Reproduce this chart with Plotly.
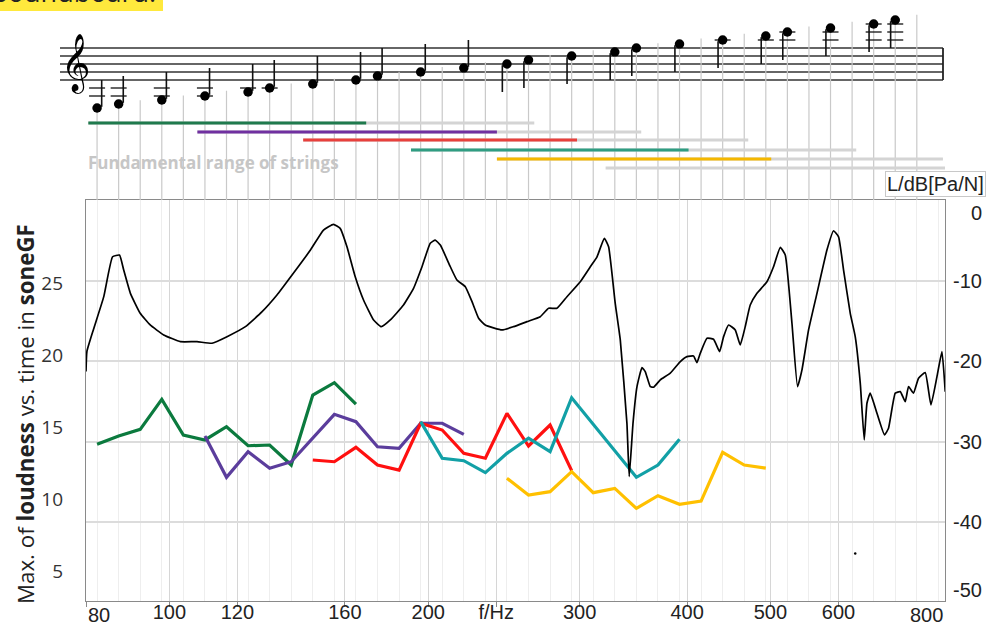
import math
import plotly.graph_objects as go

# ---------------- data ----------------
# Transfer function of the soundboard, L in dB[Pa/N] vs frequency (Hz)
resp_freq = [80.0, 80.2, 81.6, 83.9, 85.9, 87.5, 88.5, 90.1, 92.5, 95.0,
             98.5, 103.0, 107.7, 112.1, 116.7, 122.6, 128.2, 133.4, 138.9, 145.9,
             151.1, 155.2, 158.0, 160.9, 164.5, 168.2, 172.8, 176.4, 180.7, 187.2,
             192.3, 196.7, 201.1, 203.8, 206.6, 212.2, 216.0, 220.9, 224.9, 228.9,
             233.0, 243.7, 251.4, 260.5, 270.0, 276.1, 282.3, 290.0, 300.5, 308.7,
             314.3, 320.5, 324.2, 330.0, 334.5, 340.5, 342.6, 346.1, 349.8, 354.5,
             357.6, 362.5, 365.7, 372.3, 382.4, 392.8, 399.9, 407.0, 410.7, 414.4,
             421.9, 429.4, 436.4, 441.1, 447.0, 455.1, 461.2, 467.4, 473.7, 482.3,
             495.4, 504.2, 513.4, 520.3, 529.7, 537.7, 544.1, 553.8, 566.4, 581.7,
             592.1, 600.1, 608.2, 619.2, 627.5, 636.0, 642.8, 647.5, 653.2, 665.1,
             678.7, 686.0, 698.5, 707.9, 717.4, 723.8, 733.5, 743.4, 756.9, 768.5,
             781.0, 791.5, 798.5]
resp_db = [-21.3, -18.8, -16.1, -12.0, -7.05, -6.84, -8.70, -11.59, -14.07, -15.52,
           -16.76, -17.59, -17.59, -17.79, -16.97, -15.73, -13.87, -11.80, -9.32, -6.22,
           -3.73, -3.03, -3.52, -5.81, -9.53, -12.42, -14.90, -15.73, -14.90, -13.04,
           -10.97, -8.29, -5.38, -4.98, -5.60, -8.29, -9.94, -10.77, -12.63, -14.69,
           -15.52, -16.14, -15.73, -15.11, -14.49, -13.45, -13.45, -12.01, -10.15, -8.29,
           -7.05, -4.76, -5.81, -12.83, -17.38, -27.72, -34.34, -27.72, -23.18, -20.82,
           -21.31, -23.18, -23.25, -22.34, -21.51, -20.07, -19.45, -19.37, -20.20, -19.03,
           -17.17, -17.30, -18.83, -16.97, -15.52, -16.14, -18.0, -15.73, -13.04, -11.59,
           -10.15, -8.29, -5.88, -6.84, -15.31, -23.18, -21.10, -16.14, -11.59, -6.22,
           -3.82, -4.57, -8.70, -14.07, -16.97, -22.75, -29.79, -25.24, -23.99, -26.48,
           -29.17, -28.34, -23.99, -23.80, -25.04, -23.18, -23.99, -22.13, -21.44, -25.45,
           -21.94, -18.83, -23.80]
stray_freq = [627.5]
stray_db = [-43.9]

# Max. of loudness vs. time (soneGF) per played note, one series per string
e_freq = [82.41, 87.31, 92.50, 98.00, 103.83, 110.00, 116.54, 123.47, 130.81, 138.59, 146.83, 155.56, 164.81]
e_sone = [13.80, 14.38, 14.84, 16.92, 14.44, 14.10, 15.02, 13.70, 13.75, 12.36, 17.22, 18.08, 16.58]
a_freq = [110.00, 116.54, 123.47, 130.81, 138.59, 146.83, 155.56, 164.81, 174.61, 185.00, 196.00, 207.65, 220.00]
a_sone = [14.38, 11.51, 13.29, 12.13, 12.59, 14.22, 15.88, 15.37, 13.63, 13.52, 15.26, 15.26, 14.49]
d_freq = [146.83, 155.56, 164.81, 174.61, 185.00, 196.00, 207.65, 220.00, 233.08, 246.94, 261.63, 277.18, 293.66]
d_sone = [12.71, 12.59, 13.59, 12.36, 12.01, 15.26, 14.79, 13.17, 12.83, 15.95, 13.68, 15.14, 11.97]
g_freq = [196.00, 207.65, 220.00, 233.08, 246.94, 261.63, 277.18, 293.66, 349.23, 369.99, 392.00]
g_sone = [15.37, 12.83, 12.66, 11.83, 13.17, 14.22, 13.29, 17.03, 11.51, 12.36, 14.15]
b_freq = [246.94, 261.63, 277.18, 293.66, 311.13, 329.63, 349.23, 369.99, 392.00, 415.30, 440.00, 466.16, 493.88]
b_sone = [11.44, 10.28, 10.51, 11.90, 10.44, 10.74, 9.35, 10.23, 9.63, 9.86, 13.24, 12.36, 12.15]

# Notes on the staff (sounding frequency) and written staff step (0 = bottom line E4)
staff_note_freq = [82.41, 87.31, 98.00, 110.00, 123.47, 130.81, 146.83, 164.81, 174.61, 196.00,
                   220.00, 246.94, 261.63, 293.66, 329.63, 349.23, 392.00, 440.00, 493.88, 523.25,
                   587.33, 659.26, 698.46]
staff_note_step = [-7, -6, -5, -4, -3, -2, -1, 0, 1, 2,
                   3, 4, 5, 6, 7, 8, 9, 10, 11, 12,
                   13, 14, 15]

# Fundamental range of strings (Hz): coloured part and grey extension
range_start = [80.5, 107.8, 143.1, 191.0, 240.4, 321.6]
range_color_end = [169.4, 240.4, 297.9, 401.6, 501.1, 321.6]
range_grey_end = [265.7, 353.8, 471.2, 629.2, 793.6, 798.0]

x_tickvals = [80, 100, 120, 160, 200, 240, 300, 400, 500, 600]
x_ticktext = ['', '100', '120', '160', '200', 'f/Hz', '300', '400', '500', '600']
left_tickvals = [5, 10, 15, 20, 25]
right_tickvals = [0, -10, -20, -30, -40, -50]

# ---------------- styling / layout helpers ----------------
W, H = 987, 625
ML, MR, MT, MB = 86, 42, 0, 24
PW, PH = W - ML - MR, H - MT - MB
MAIN_TOP_PX = 200
main_top = (PH - MAIN_TOP_PX) / PH
XR = [math.log10(80), math.log10(798)]
YR_DB = [-49.8, 0]
PX_PER_DEC = PW / (XR[1] - XR[0])


def px_x(x):
    return (x - ML) / PW


def px_y(y):
    return (PH - y) / PH


def fshift(f, px):
    return f * 10 ** (px / PX_PER_DEC)


range_colors = ['#1f7a4d', '#7030a0', '#e8403c', '#2f9d82', '#f5b800', None]
range_step = [-10.75, -13.0, -15.0, -17.5, -19.75, -22.0]
series_colors = ['#0b7a3e', '#5b3d9c', '#ff1010', '#12a0a6', '#ffc000']

semitones = [82.4069 * 2 ** (s / 12) for s in range(40)]

fig = go.Figure()

# ---- top area: vertical semitone lines ----
vx, vy = [], []
for s in range(39):
    f = semitones[s]
    top = -6.25 + 0.5945 * s
    vx += [f, f, None]
    vy += [-30, top, None]
fig.add_trace(go.Scatter(x=vx, y=vy, xaxis='x2', yaxis='y3', mode='lines',
                         line=dict(color='#c9c9c9', width=1.2), hoverinfo='skip', showlegend=False))

# ---- range lines ----
for i in range(len(range_start)):
    fig.add_trace(go.Scatter(x=[range_start[i], range_grey_end[i]], y=[range_step[i]] * 2,
                             xaxis='x2', yaxis='y3', mode='lines',
                             line=dict(color='#d4d4d4', width=3), showlegend=False, hoverinfo='skip'))
    if range_colors[i]:
        fig.add_trace(go.Scatter(x=[range_start[i], range_color_end[i]], y=[range_step[i]] * 2,
                                 xaxis='x2', yaxis='y3', mode='lines',
                                 line=dict(color=range_colors[i], width=3), showlegend=False,
                                 hoverinfo='skip'))

# ---- staff: ledger lines, stems, heads ----
lx, ly, sx, sy = [], [], [], []
for f, st in zip(staff_note_freq, staff_note_step):
    ledgers = []
    if st <= -2:
        ledgers.append(-2)
    if st <= -4:
        ledgers.append(-4)
    for lv in (10, 12, 14):
        if st >= lv:
            ledgers.append(lv)
    for lv in ledgers:
        lx += [fshift(f, -8), fshift(f, 8), None]
        ly += [lv, lv, None]
    if st < 4:
        xs = fshift(f, 4.6)
        sx += [xs, xs, None]
        sy += [st + 0.3, st + 7, None]
    else:
        xs = fshift(f, -4.6)
        sx += [xs, xs, None]
        sy += [st - 0.3, st - 7, None]
fig.add_trace(go.Scatter(x=lx, y=ly, xaxis='x2', yaxis='y3', mode='lines', cliponaxis=False,
                         line=dict(color='#111', width=1.3), showlegend=False, hoverinfo='skip'))
fig.add_trace(go.Scatter(x=sx, y=sy, xaxis='x2', yaxis='y3', mode='lines', cliponaxis=False,
                         line=dict(color='#111', width=1.6), showlegend=False, hoverinfo='skip'))
fig.add_trace(go.Scatter(x=staff_note_freq, y=staff_note_step, xaxis='x2', yaxis='y3',
                         mode='markers', cliponaxis=False,
                         marker=dict(color='#000', size=9.5, line=dict(width=0)),
                         showlegend=False, hoverinfo='skip'))

# ---- main plot ----
for fx, sv, c in zip([e_freq, a_freq, d_freq, g_freq, b_freq],
                     [e_sone, a_sone, d_sone, g_sone, b_sone], series_colors):
    fig.add_trace(go.Scatter(x=fx, y=sv, xaxis='x', yaxis='y', mode='lines',
                             line=dict(color=c, width=3.2), showlegend=False))

fig.add_trace(go.Scatter(x=resp_freq, y=resp_db, xaxis='x', yaxis='y2', mode='lines',
                         line=dict(color='#000', width=1.7, shape='spline', smoothing=0.4),
                         showlegend=False))
fig.add_trace(go.Scatter(x=stray_freq, y=stray_db, xaxis='x', yaxis='y2', mode='markers',
                         marker=dict(color='#000', size=2.5), showlegend=False))

# ---- staff lines and header highlight (shapes) ----
shapes = []
for st in (0, 2, 4, 6, 8):
    shapes.append(dict(type='line', xref='paper', yref='y3', x0=px_x(60), x1=px_x(943),
                       y0=st, y1=st, line=dict(color='#333', width=1.3), layer='below'))
shapes.append(dict(type='line', xref='paper', yref='y3', x0=px_x(943), x1=px_x(943),
                   y0=0, y1=8, line=dict(color='#222', width=1.8)))
shapes.append(dict(type='rect', xref='paper', yref='paper', x0=px_x(-2), x1=px_x(163),
                   y0=px_y(11), y1=px_y(-2), fillcolor='#ffe93d', line=dict(width=0),
                   layer='below'))

AX = '#8a8a8a'
TF = dict(family='Liberation Sans, Arial', size=20, color='#222')
annotations = []
# treble clef
annotations.append(dict(text='\U0001D11E', xref='paper', yref='y3', x=px_x(76), y=4.25,
                        xanchor='center', yanchor='middle', showarrow=False,
                        font=dict(family='DejaVu Sans', size=50, color='#000')))
# header (cut at the top edge, as in the reference)
annotations.append(dict(text='Soundboard:', xref='paper', yref='paper', x=px_x(158), y=px_y(-9),
                        xanchor='right', yanchor='middle', showarrow=False,
                        font=dict(family='Open Sans', size=27, color='#222')))
annotations.append(dict(text='<b>Fundamental range of strings</b>', xref='paper', yref='y3',
                        x=px_x(86), y=-20.5, xanchor='left', yanchor='middle', showarrow=False,
                        font=dict(family='Open Sans', size=17, color='#c6c6c6')))
annotations.append(dict(text='L/dB[Pa/N]', xref='paper', yref='paper', x=px_x(986), y=px_y(171),
                        xanchor='right', yanchor='top', showarrow=False, bgcolor='#ffffff',
                        bordercolor='#c8c8c8', borderwidth=1, borderpad=1,
                        font=TF))
annotations.append(dict(text='Max. of <b>loudness</b> vs. time in <b>soneGF</b>', textangle=-90,
                        xref='paper', yref='paper', x=px_x(25), y=px_y(414),
                        xanchor='center', yanchor='middle', showarrow=False,
                        font=dict(family='Open Sans', size=22.3, color='#222')))
# right axis labels
for v in right_tickvals:
    yv, shift = v, 0
    if v == 0:
        shift = -13
    if v == -50:
        yv, shift = YR_DB[0], 11
    annotations.append(dict(text=str(v), xref='paper', yref='y2', x=px_x(984), y=yv,
                            xanchor='right', yanchor='middle', yshift=shift, showarrow=False,
                            font=TF))
# edge x labels
annotations.append(dict(text='80', xref='paper', yref='paper', x=0, y=0, xanchor='left',
                        yanchor='top', yshift=-1, showarrow=False, font=TF))
annotations.append(dict(text='800', xref='paper', yref='paper', x=1, y=0, xanchor='right',
                        yanchor='top', yshift=-1, showarrow=False, font=TF))

fig.update_layout(
    template='none',
    width=W, height=H, margin=dict(l=ML, r=MR, t=MT, b=MB, pad=0, autoexpand=False),
    paper_bgcolor='#ffffff', plot_bgcolor='#ffffff', showlegend=False,
    xaxis=dict(type='log', range=XR, domain=[0, 1], anchor='y', automargin=False,
               tickmode='array', tickvals=x_tickvals, ticktext=x_ticktext,
               showgrid=True, gridcolor='#d6d6d6', gridwidth=1.3, zeroline=False,
               showline=True, linecolor=AX, linewidth=1.3, mirror=True,
               ticks='outside', ticklen=5, tickcolor=AX, tickwidth=1.3,
               ticklabelstandoff=-12,
               tickfont=TF,
               minor=dict(tickmode='array', tickvals=semitones, showgrid=True,
                          gridcolor='#eeeeee', gridwidth=1, ticks='')),
    yaxis=dict(domain=[0, main_top], range=[2.92, 30.76], tickmode='array', automargin=False,
               tickvals=left_tickvals, showgrid=False, zeroline=False,
               showline=True, linecolor=AX, linewidth=1.3, ticks='',
               ticklabelstandoff=18,
               tickfont=dict(family='Open Sans', size=19, color='#333')),
    yaxis2=dict(overlaying='y', side='right', anchor='x', range=YR_DB, automargin=False,
                tickmode='array', tickvals=[-10, -20, -30, -40], showticklabels=False,
                showgrid=True, gridcolor='#dcdcdc', gridwidth=1.5, zeroline=False,
                showline=True, linecolor=AX, linewidth=1.3, ticks=''),
    xaxis2=dict(type='log', range=XR, domain=[0, 1], anchor='y3', visible=False),
    yaxis3=dict(domain=[main_top, 1], range=[-30, 20], anchor='x2', visible=False),
    shapes=shapes, annotations=annotations,
)

fig.write_html('out.html')
